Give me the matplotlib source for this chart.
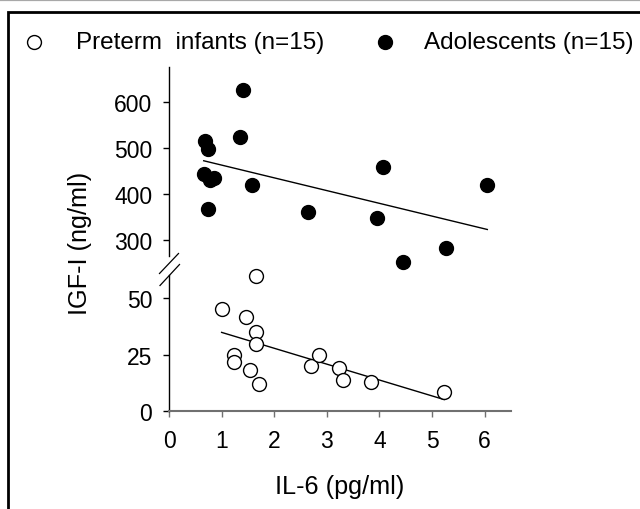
#!/usr/bin/env python3
"""IGF-I vs IL-6 scatter with broken y axis (preterm infants vs adolescents)."""

import numpy as np
import matplotlib
matplotlib.use("Agg")
import matplotlib.pyplot as plt
from matplotlib.lines import Line2D
from matplotlib.patches import Rectangle

plt.rcParams["font.family"] = ["Liberation Sans", "DejaVu Sans"]

# === Data ===
# Preterm infants (open circles), IGF-I in ng/ml
preterm_il6 = [1.66, 1.00, 1.46, 1.65, 1.65, 1.24, 1.24, 1.53, 1.71,
               2.70, 2.86, 3.24, 3.30, 3.83, 5.23]
preterm_igf = [59.6, 45.3, 41.6, 35.1, 29.6, 24.9, 21.5, 18.0, 12.1,
               19.8, 24.8, 19.2, 13.7, 12.7, 8.4]

# Adolescents (filled circles)
adol_il6 = [0.69, 0.75, 0.66, 0.77, 0.86, 0.74, 1.34, 1.41, 1.57,
            2.65, 3.95, 4.06, 4.44, 5.27, 6.05]
adol_igf = [514, 498, 443, 429, 435, 366, 524, 626, 418,
            361, 347, 459, 251, 283, 420]

x_ticks = [0, 1, 2, 3, 4, 5, 6]
low_ticks = [0, 25, 50]
high_ticks = [300, 400, 500, 600]

W, H = 640, 510
FS_TICK = 16.5
FS_LABEL = 18.2
FS_LEG = 17.5
MS = 10


def fx(px):
    return px / W


def fy(py):
    return 1 - py / H


fig = plt.figure(figsize=(6.4, 5.1), dpi=100)

# lower (0-60) and upper (265-675) panels of the broken axis
ax_lo = fig.add_axes([fx(169), fy(412), fx(511) - fx(169), fy(276) - fy(412)])
ax_hi = fig.add_axes([fx(169), fy(257), fx(511) - fx(169), fy(68) - fy(257)])

for ax in (ax_lo, ax_hi):
    ax.set_xlim(0, 6.5)
    ax.patch.set_alpha(0)
    for s in ("top", "right"):
        ax.spines[s].set_visible(False)
    ax.spines["left"].set_linewidth(1.0)
    ax.tick_params(axis="y", direction="out", length=4, width=1,
                   labelsize=FS_TICK, pad=8)

ax_lo.set_ylim(0, 60.2)
ax_hi.set_ylim(265, 675)

ax_lo.spines["bottom"].set_color("#707070")
ax_lo.spines["bottom"].set_linewidth(1.5)
ax_lo.set_xticks(x_ticks)
ax_lo.tick_params(axis="x", direction="out", length=4, width=1,
                  color="#707070", labelsize=FS_TICK, pad=9)
ax_lo.set_yticks(low_ticks)

ax_hi.spines["bottom"].set_visible(False)
ax_hi.set_xticks([])
ax_hi.set_yticks(high_ticks)

# points
ax_lo.plot(preterm_il6, preterm_igf, "o", ms=MS, mfc="white", mec="black",
           mew=1.0, clip_on=False, zorder=3)
ax_hi.plot(adol_il6, adol_igf, "o", ms=MS, mfc="black", mec="black",
           clip_on=False, zorder=3)

# regression lines over each group's range
for ax, xs, ys in ((ax_lo, preterm_il6, preterm_igf), (ax_hi, adol_il6, adol_igf)):
    xs = np.asarray(xs)
    k, b = np.polyfit(xs, ys, 1)
    xx = np.array([xs.min(), xs.max()])
    ax.plot(xx, k * xx + b, color="black", lw=1.0, zorder=2)

# axis break marks
for (x0, y0, x1, y1) in ((159.5, 274.5, 178.5, 254.5), (160, 286.5, 179.5, 265.5)):
    fig.add_artist(Line2D([fx(x0), fx(x1)], [fy(y0), fy(y1)], color="black", lw=0.9))

# axis labels
fig.text(fx(340), fy(487), "IL-6 (pg/ml)", ha="center", va="center", fontsize=FS_LABEL)
fig.text(fx(80), fy(243), "IGF-I (ng/ml)", ha="center", va="center",
         rotation=90, fontsize=FS_LABEL)

# legend row
fig.add_artist(Line2D([fx(34)], [fy(43)], marker="o", ms=MS, mfc="white",
                      mec="black", mew=1.0, ls="none"))
fig.text(fx(76), fy(43), "Preterm  infants (n=15)", ha="left", va="center",
         fontsize=FS_LEG)
fig.add_artist(Line2D([fx(385)], [fy(43)], marker="o", ms=MS, mfc="black",
                      mec="black", ls="none"))
fig.text(fx(424), fy(43), "Adolescents (n=15)", ha="left", va="center",
         fontsize=FS_LEG)

# frame: grey rule at very top, black box open to the right and bottom
fig.add_artist(Line2D([0, 1], [fy(0.8), fy(0.8)], color="#a8a8a8", lw=1.6))
fig.add_artist(Rectangle((fx(8), fy(H + 20)), 1.2, fy(13) - fy(H + 20),
                         fill=False, ec="black", lw=2.0, clip_on=False))

fig.savefig("out.png", dpi=100)
